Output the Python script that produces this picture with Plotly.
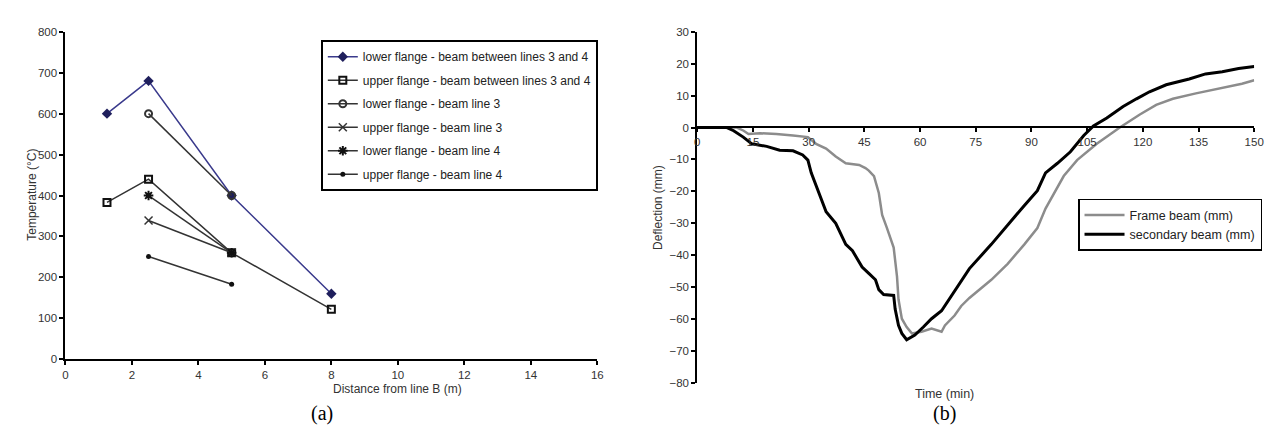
import plotly.graph_objects as go

# ---------------- (a) temperature vs distance ----------------
names_a = [
    "lower flange - beam between lines 3 and 4",
    "upper flange - beam between lines 3 and 4",
    "lower flange - beam line 3",
    "upper flange - beam line 3",
    "lower flange - beam line 4",
    "upper flange - beam line 4",
]
x_lf34 = [1.25, 2.5, 5, 8]
y_lf34 = [600, 680, 400, 160]
x_uf34 = [1.25, 2.5, 5, 8]
y_uf34 = [383, 440, 260, 122]
x_lf3 = [2.5, 5]
y_lf3 = [600, 400]
x_uf3 = [2.5, 5]
y_uf3 = [339, 260]
x_lf4 = [2.5, 5]
y_lf4 = [400, 260]
x_uf4 = [2.5, 5]
y_uf4 = [251, 183]

# ---------------- (b) deflection vs time ----------------
t_frame = [0, 10.7, 12.5, 13.8, 16.9, 21.3, 25.8, 28.4, 29.8, 32.0, 34.7, 37.3, 40.0,
           43.6, 45.3, 46.2, 47.6, 48.9, 49.8, 51.1, 52.9, 53.8, 54.2, 55.1, 56.4,
           57.8, 60.4, 63.1, 65.8, 66.7, 69.3, 71.1, 73.3, 79.2, 83.6, 88.1, 91.6,
           93.8, 98.7, 102.3, 107.6, 113.8, 119.2, 123.6, 128.1, 134.3, 141.4, 146.7, 150]
d_frame = [0, 0, -1.0, -2.0, -1.8, -2.0, -2.5, -2.8, -3.0, -5.1, -6.6, -9.1, -11.2,
           -11.7, -12.7, -13.5, -15.2, -20.5, -27.4, -31.5, -37.6, -46.7, -53.8, -59.9, -62.5,
           -64.5, -64.0, -63.0, -64.0, -62.0, -58.9, -55.9, -53.4, -47.7, -42.7, -36.6, -31.5,
           -25.4, -15.2, -10.2, -5.1, 0.0, 4.1, 7.1, 9.0, 10.7, 12.4, 13.7, 14.8]

t_secondary = [0, 8.0, 9.8, 12.4, 14.7, 18.7, 22.2, 25.8, 28.4, 29.8, 30.7, 32.4, 34.7,
               37.3, 40.0, 41.8, 44.4, 46.2, 48.0, 48.9, 50.2, 52.9, 53.3, 54.2, 55.1,
               56.4, 58.6, 60.9, 63.1, 65.8, 68.4, 71.1, 73.3, 79.2, 83.6, 88.1, 91.6,
               93.8, 97.0, 100.5, 104.1, 106.7, 110.3, 114.7, 118.3, 121.8, 126.3, 132.5,
               136.9, 141.4, 145.8, 150]
d_secondary = [0, 0, -1.0, -3.0, -5.1, -5.9, -7.1, -7.3, -8.6, -10.2, -14.2, -19.3, -26.4,
               -30.0, -36.6, -38.6, -43.7, -45.7, -47.7, -50.8, -52.3, -52.6, -56.9, -62.0, -64.5,
               -66.5, -65.0, -62.5, -59.9, -57.4, -52.8, -47.7, -44.2, -36.6, -30.5, -24.4, -19.8,
               -14.2, -11.2, -7.6, -2.5, 0.5, 3.0, 6.6, 9.0, 11.2, 13.4, 15.2,
               16.8, 17.5, 18.5, 19.1]

names_b = ["Frame beam (mm)", "secondary beam (mm)"]

W, H = 1277, 436
FONT = "Arial, Liberation Sans, sans-serif"
TICKC = "#333333"

fig = go.Figure()

navy = "#3a3a8c"
dark = "#333333"
series_a = [
    (x_lf34, y_lf34, navy, dict(symbol="diamond", size=8, color="#1f1f5c")),
    (x_uf34, y_uf34, dark, dict(symbol="square-open", size=7, color="#111111", line=dict(width=2))),
    (x_lf3, y_lf3, dark, dict(symbol="circle-open", size=7, color="#333333", line=dict(width=2))),
    (x_uf3, y_uf3, dark, dict(symbol="x-thin-open", size=8, color="#333333", line=dict(width=1.5))),
    (x_lf4, y_lf4, dark, dict(symbol="asterisk-open", size=8, color="#111111", line=dict(width=2))),
    (x_uf4, y_uf4, dark, dict(symbol="circle", size=5, color="#111111")),
]
for i, ((xs, ys, col, mk), nm) in enumerate(zip(series_a, names_a)):
    fig.add_trace(go.Scatter(x=xs, y=ys, mode="lines+markers", name=nm,
                             line=dict(color=col, width=1.5), marker=mk,
                             legendgroup=f"a{i}",
                             xaxis="x", yaxis="y", legend="legend"))

fig.add_trace(go.Scatter(x=t_frame, y=d_frame, mode="lines", name=names_b[0],
                         line=dict(color="#8c8c8c", width=2.5), legendgroup="b0",
                         xaxis="x2", yaxis="y2", legend="legend2"))
fig.add_trace(go.Scatter(x=t_secondary, y=d_secondary, mode="lines", name=names_b[1],
                         line=dict(color="#000000", width=3), legendgroup="b1",
                         xaxis="x2", yaxis="y2", legend="legend2"))

def px(v):
    return v / W

def py(v):
    return 1 - v / H

axis_common = dict(showgrid=False, zeroline=False, showline=True, linecolor="black",
                   linewidth=2, ticks="outside", ticklen=4, tickwidth=2, tickcolor="black",
                   tickfont=dict(family=FONT, size=11.5, color=TICKC))

fig.update_layout(
    width=W, height=H,
    margin=dict(l=0, r=0, t=0, b=0),
    paper_bgcolor="white", plot_bgcolor="white",
    xaxis=dict(domain=[px(55), px(592.3)], range=[0, 16], tickvals=[0, 2, 4, 6, 8, 10, 12, 14, 16],
               anchor="y", **axis_common),
    yaxis=dict(domain=[py(355), py(18.3)], range=[0, 800], dtick=100, anchor="x", **axis_common),
    xaxis2=dict(domain=[px(693.3), px(1256)], range=[0, 150], dtick=15, anchor="free",
                position=py(116.7), **axis_common),
    yaxis2=dict(domain=[py(379.3), py(18.3)], range=[-80, 30], dtick=10, anchor="x2",
                **axis_common),
    legend=dict(x=px(313), y=py(27), xanchor="left", yanchor="top",
                bordercolor="black", borderwidth=2, bgcolor="white",
                font=dict(family=FONT, size=12, color="#222222"),
                tracegroupgap=4.5, itemwidth=30),
    legend2=dict(x=px(1078), y=py(190), xanchor="left", yanchor="top",
                 bordercolor="black", borderwidth=1.5, bgcolor="white",
                 font=dict(family=FONT, size=12.5, color="#222222"),
                 tracegroupgap=0, itemwidth=40),
    annotations=[
        dict(text="Temperature (°C)", x=px(12), y=py(186), xref="paper", yref="paper",
             textangle=-90, showarrow=False, font=dict(family=FONT, size=12, color=TICKC)),
        dict(text="Distance from line B (m)", x=px(323.5), y=py(395), xref="paper", yref="paper",
             showarrow=False, font=dict(family=FONT, size=12, color=TICKC)),
        dict(text="Deflection (mm)", x=px(653), y=py(199), xref="paper", yref="paper",
             textangle=-90, showarrow=False, font=dict(family=FONT, size=12, color=TICKC)),
        dict(text="Time (min)", x=px(975), y=py(400), xref="paper", yref="paper",
             showarrow=False, font=dict(family=FONT, size=12.5, color=TICKC)),
        dict(text="(a)", x=px(301), y=py(425), xref="paper", yref="paper",
             showarrow=False, font=dict(family="Liberation Serif, Times New Roman, serif", size=20, color="black")),
        dict(text="(b)", x=px(957), y=py(425), xref="paper", yref="paper",
             showarrow=False, font=dict(family="Liberation Serif, Times New Roman, serif", size=20, color="black")),
    ],
)

fig.write_html("out.html")
